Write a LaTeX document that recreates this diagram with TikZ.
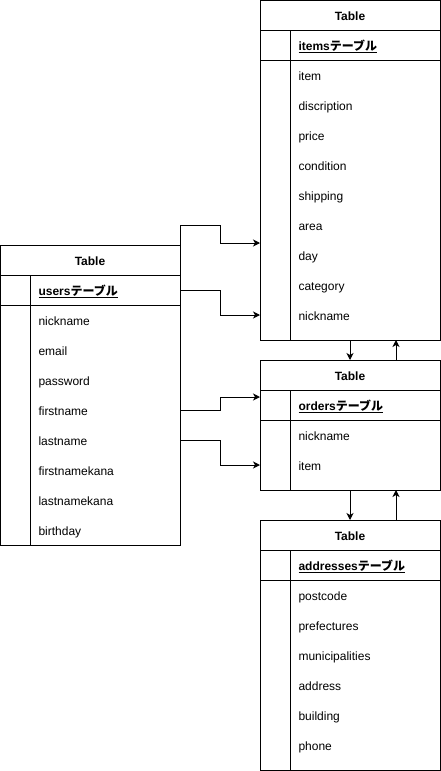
\documentclass[tikz,border=0pt]{standalone}
\usepackage{fontspec}
\setmainfont{Liberation Sans}
\newfontfamily\jpfont{Noto Sans CJK JP}
\usetikzlibrary{arrows.meta}
\tikzset{
  tblbox/.style={draw, anchor=north west, minimum width=180pt, inner sep=0pt, outer sep=0pt},
  titletext/.style={font=\fontsize{12}{14}\selectfont\bfseries, inner sep=0pt, text height=10pt, text depth=0pt},
  fieldtext/.style={font=\fontsize{12}{14}\selectfont, anchor=west, inner sep=0pt, text height=10pt, text depth=0pt},
  keytext/.style={font=\fontsize{12}{14}\selectfont\bfseries, anchor=west, inner sep=0pt, text height=10pt, text depth=0pt},
  arr/.style={-{Stealth[length=7pt,width=7pt,inset=2pt]}},
}
\newcommand\erdtab[6]{%
  \node[tblbox, minimum height=#4pt] (#1) at (#2,#3) {};
  \draw ([yshift=-30pt]#1.north west) -- ([yshift=-30pt]#1.north east);
  \draw ([yshift=-60pt]#1.north west) -- ([yshift=-60pt]#1.north east);
  \draw ([xshift=30pt,yshift=-30pt]#1.north west) -- ([xshift=30pt]#1.south west);
  \node[titletext] (#1-title) at ([yshift=-15pt]#1.north) {Table};
  \node[keytext] (#1-key) at ([xshift=38pt,yshift=-45pt]#1.north west) {\underline{#5{\jpfont\bfseries テーブル}}};
  \foreach \f [count=\i] in {#6}
    \node[fieldtext] (#1-f\i) at ([xshift=38pt,yshift={-(45+30*\i)*1pt}]#1.north west) {\f};
}
\begin{document}
\begin{tikzpicture}[x=1pt,y=-1pt,line width=1pt]
\useasboundingbox (0,0) rectangle (441,771);
\erdtab{users}{0}{245}{300}{users}{nickname,email,password,firstname,lastname,firstnamekana,lastnamekana,birthday}
\erdtab{items}{260}{0}{340}{items}{item,discription,price,condition,shipping,area,day,category,nickname}
\erdtab{orders}{260}{360}{130}{orders}{nickname,item}
\erdtab{addresses}{260}{520}{250}{addresses}{postcode,prefectures,municipalities,address,building,phone}
% connectors from users
\draw[arr] (users.north east) -- ++(0,-20) -- ++(40,0) |- ([yshift=-243pt]items.north west);
\draw[arr] ([yshift=-45pt]users.north east) -- ++(40,0) |- ([yshift=-315pt]items.north west);
\draw[arr] ([yshift=-165pt]users.north east) -- ++(40,0) |- ([yshift=-37pt]orders.north west);
\draw[arr] ([yshift=-195pt]users.north east) -- ++(40,0) |- ([yshift=-105pt]orders.north west);
% vertical connectors
\draw[arr] ([xshift=90pt]items.south west) -- ([xshift=90pt]orders.north west);
\draw[arr] ([xshift=136pt]orders.north west) -- ([xshift=136pt]items.south west);
\draw[arr] ([xshift=90pt]orders.south west) -- ([xshift=90pt]addresses.north west);
\draw[arr] ([xshift=136pt]addresses.north west) -- ([xshift=136pt]orders.south west);
\end{tikzpicture}
\end{document}
